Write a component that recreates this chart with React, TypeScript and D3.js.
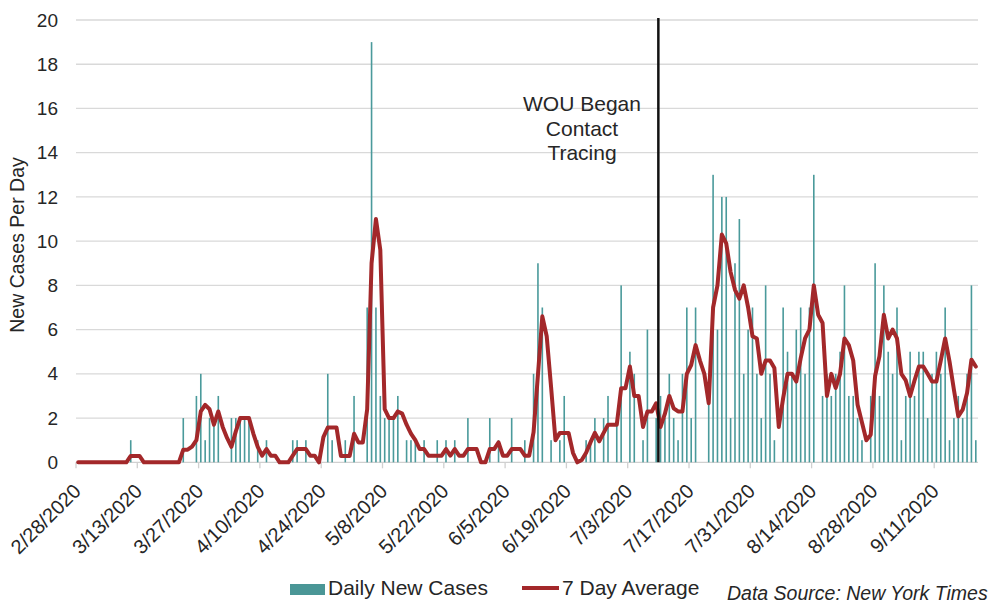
import React from "react";
import * as d3 from "d3";

const startDate = "2/28/2020";
const dayCount = 206;

const dailyCases = [
  0,0,0,0,0,0,0,0,0,0, 0,0,1,0,0,0,0,0,0,0,
  0,0,0,0,2,0,0,3,4,1, 2,2,3,0,0,2,2,2,2,2,
  0,1,0,1,0,0,0,0,0,1, 1,0,1,0,0,0,0,4,1,0,
  0,1,0,3,0,0,7,19,7,3, 2,2,2,3,0,1,1,1,0,1,
  0,0,1,0,1,0,1,0,0,2, 0,0,0,0,2,0,1,0,0,2,
  0,0,1,0,4,9,7,0,1,0, 1,3,0,0,0,0,1,1,2,0,
  2,3,0,2,8,0,5,4,0,1, 6,0,2,3,2,4,2,1,4,7,
  2,7,0,0,3,13,6,12,12,2, 9,11,4,6,7,4,2,8,4,1,
  0,7,5,4,6,7,4,7,13,0, 3,4,3,4,5,8,3,3,2,1,
  0,3,9,3,8,5,4,7,1,3, 5,3,5,5,2,4,5,4,7,1,
  2,3,2,4,8,1
];

const sevenDayAvg = [
  0,0,0,0,0,0,0,0,0,0, 0,0,0.29,0.29,0.29,0,0,0,0,0,
  0,0,0,0,0.57,0.57,0.71,1.0,2.3,2.6, 2.4,1.7,2.3,1.6,1.1,0.7,1.4,2.0,2.0,2.0,
  1.3,0.7,0.3,0.6,0.3,0.3,0,0,0,0.3, 0.6,0.6,0.6,0.3,0.3,0,1.14,1.57,1.57,1.57,
  0.29,0.29,0.29,1.29,0.9,0.9,2.4,9.0,11.0,9.6, 2.4,2.0,2.0,2.3,2.2,1.7,1.3,1.0,0.6,0.6,
  0.3,0.3,0.3,0.3,0.6,0.3,0.6,0.3,0.3,0.6, 0.6,0.6,0,0,0.6,0.6,0.9,0.3,0.3,0.6,
  0.6,0.6,0.3,0.3,1.36,3.95,6.6,5.7,3.4,1.0, 1.33,1.33,1.33,0.43,0,0.1,0.43,0.9,1.33,0.95,
  1.33,1.7,1.7,1.7,3.35,3.35,4.33,3.0,3.0,1.6, 2.3,2.3,2.67,1.6,2.2,3.0,2.44,2.3,2.3,4.0,
  4.4,5.3,4.6,4.0,2.67,7.0,8.0,10.3,9.9,8.6, 7.8,7.4,8.0,7.0,5.7,5.6,4.0,4.6,4.6,4.26,
  1.6,2.9,4.0,4.0,3.65,4.7,5.6,6.0,8.0,6.67, 6.3,3.0,4.0,3.36,4.0,5.6,5.3,4.6,2.6,1.8,
  1.0,1.25,3.9,4.8,6.67,5.6,6.0,5.6,4.0,3.7, 3.0,3.7,4.33,4.33,4.0,3.65,3.65,4.6,5.6,4.55,
  3.28,2.08,2.38,3.13,4.64,4.33
];

const xTickLabels = [
  "2/28/2020","3/13/2020","3/27/2020","4/10/2020","4/24/2020","5/8/2020","5/22/2020",
  "6/5/2020","6/19/2020","7/3/2020","7/17/2020","7/31/2020","8/14/2020","8/28/2020","9/11/2020"
];
const yTicks = [0,2,4,6,8,10,12,14,16,18,20];
const annotationDate = "7/10/2020";
const annotationLines = ["WOU Began", "Contact", "Tracing"];
const yTitle = "New Cases Per Day";
const legendBars = "Daily New Cases";
const legendLine = "7 Day Average";
const sourceNote = "Data Source: New York Times";

const fmt = (d: Date) => `${d.getMonth() + 1}/${d.getDate()}/${d.getFullYear()}`;

export default function App() {
  const W = 993, H = 606;
  const left = 76, right = 978, top = 20, bottom = 462.3;
  const font = "'Liberation Sans', Arial, sans-serif";

  const start = d3.timeParse("%m/%d/%Y")(startDate) as Date;
  const dates = d3.timeDay.range(start, d3.timeDay.offset(start, dayCount)).map(fmt);

  const x = d3.scaleBand<string>().domain(dates).range([left, right]).paddingInner(0).paddingOuter(0);
  const bw = x.bandwidth();
  const y = d3.scaleLinear().domain([0, 20]).range([bottom, top]);

  const cx = (i: number) => (x(dates[i]) as number) + bw / 2;
  const linePath = d3.line<number>().x((d, i) => cx(i)).y(d => y(d)).curve(d3.curveLinear)(sevenDayAvg) || "";

  const annX = x(annotationDate) as number;

  return (
    <svg width={W} height={H} style={{ position: "absolute", left: 0, top: 0, background: "#fff" }} fontFamily={font}>
      {yTicks.map(t => (
        <g key={"g" + t}>
          {t > 0 && <line x1={left} x2={right} y1={y(t)} y2={y(t)} stroke="#d9d9d9" strokeWidth={1.3} />}
          <text x={58} y={y(t)} dy="0.35em" textAnchor="end" fontSize={19} fill="#262626">{t}</text>
        </g>
      ))}
      <line x1={left} x2={right} y1={bottom} y2={bottom} stroke="#d0d0d0" strokeWidth={1.3} />
      {xTickLabels.map(lbl => {
        const tx = x(lbl) as number;
        return (
          <g key={lbl}>
            <line x1={tx} x2={tx} y1={bottom} y2={bottom + 6} stroke="#d0d0d0" strokeWidth={1.3} />
            <text transform={`translate(${tx + 6},${bottom + 30}) rotate(-45)`} textAnchor="end" fontSize={20} fill="#262626">{lbl}</text>
          </g>
        );
      })}
      {dailyCases.map((v, i) => v > 0 ? (
        <rect key={"b" + i} x={cx(i) - 0.8} y={y(v)} width={1.6} height={bottom - y(v)} fill="#4a9a9b" />
      ) : null)}
      <path d={linePath} fill="none" stroke="#a3282a" strokeWidth={4} strokeLinejoin="round" strokeLinecap="round" />
      <line x1={annX} x2={annX} y1={18} y2={bottom} stroke="#111" strokeWidth={2.5} />
      {annotationLines.map((t, k) => (
        <text key={t} x={582} y={111 + k * 24.5} textAnchor="middle" fontSize={21} fill="#262626">{t}</text>
      ))}
      <text transform={`translate(24,245) rotate(-90)`} textAnchor="middle" fontSize={19.5} fill="#262626">{yTitle}</text>
      <rect x={290} y={584} width={35} height={11} fill="#4a9696" />
      <text x={328} y={595} fontSize={21} fill="#262626">{legendBars}</text>
      <line x1={522} x2={559} y1={588} y2={588} stroke="#a3282a" strokeWidth={4} />
      <text x={562} y={595} fontSize={21} fill="#262626">{legendLine}</text>
      <text x={727} y={600} fontSize={19.5} fontStyle="italic" fill="#262626">{sourceNote}</text>
    </svg>
  );
}
